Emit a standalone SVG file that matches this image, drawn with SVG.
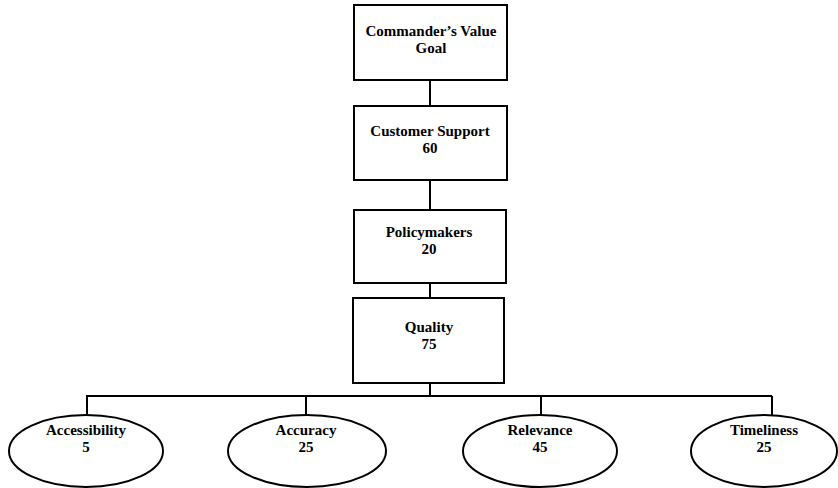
<svg xmlns="http://www.w3.org/2000/svg" width="838" height="488" viewBox="0 0 838 488">
  <style>
    .box { fill: #fff; stroke: #000; stroke-width: 2; }
    .oval { fill: #fff; stroke: #000; stroke-width: 2; }
    .wire { fill: none; stroke: #000; stroke-width: 2; }
    text { font-family: "Liberation Serif", "Times New Roman", serif; font-weight: bold; font-size: 15px; text-anchor: middle; fill: #000; }
  </style>
  <rect width="838" height="488" fill="#fff"/>

  <!-- connectors -->
  <g id="connectors">
    <line class="wire" x1="430" y1="80" x2="430" y2="106"/>
    <line class="wire" x1="430" y1="180" x2="430" y2="210"/>
    <line class="wire" x1="430" y1="283" x2="430" y2="298"/>
    <line class="wire" x1="430" y1="383" x2="430" y2="396"/>
    <line class="wire" x1="86" y1="396" x2="772" y2="396"/>
    <line class="wire" x1="87" y1="396" x2="87" y2="415"/>
    <line class="wire" x1="306" y1="396" x2="306" y2="415"/>
    <line class="wire" x1="541" y1="396" x2="541" y2="415"/>
    <line class="wire" x1="772" y1="396" x2="772" y2="415"/>
  </g>

  <g id="commanders-value">
    <rect class="box" x="354" y="5" width="153" height="75"/>
    <text x="431" y="36">Commander’s Value</text>
    <text x="431" y="53">Goal</text>
  </g>

  <g id="customer-support">
    <rect class="box" x="354" y="106" width="153" height="74"/>
    <text x="430" y="136">Customer Support</text>
    <text x="430" y="153">60</text>
  </g>

  <g id="policymakers">
    <rect class="box" x="354" y="210" width="152" height="73"/>
    <text x="429" y="237">Policymakers</text>
    <text x="429" y="254">20</text>
  </g>

  <g id="quality">
    <rect class="box" x="353" y="298" width="151" height="85"/>
    <text x="429" y="332">Quality</text>
    <text x="429" y="349">75</text>
  </g>

  <g id="accessibility">
    <ellipse class="oval" cx="86" cy="451" rx="77" ry="36"/>
    <text x="86" y="435">Accessibility</text>
    <text x="86" y="452">5</text>
  </g>

  <g id="accuracy">
    <ellipse class="oval" cx="307" cy="451" rx="79" ry="36"/>
    <text x="306" y="435">Accuracy</text>
    <text x="306" y="452">25</text>
  </g>

  <g id="relevance">
    <ellipse class="oval" cx="540" cy="451" rx="77" ry="36"/>
    <text x="540" y="435">Relevance</text>
    <text x="540" y="452">45</text>
  </g>

  <g id="timeliness">
    <ellipse class="oval" cx="764" cy="451" rx="73" ry="36"/>
    <text x="764" y="435">Timeliness</text>
    <text x="764" y="452">25</text>
  </g>
</svg>
